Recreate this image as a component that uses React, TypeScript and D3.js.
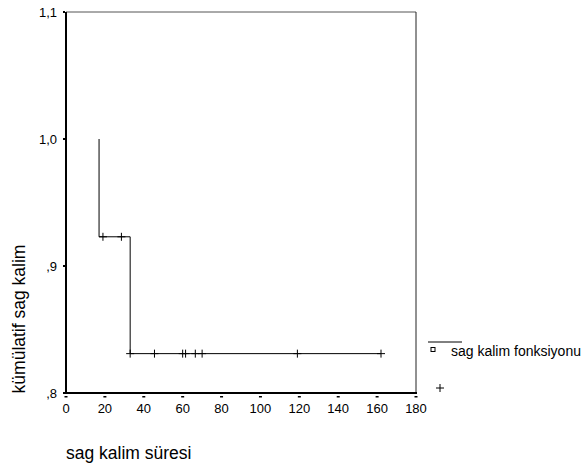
import React from 'react';
import * as d3 from 'd3';

// kaplan-meier steps
const stepTimes = [17, 33, 162];
const stepSurvival = [1.0, 0.923, 0.831];
const censorTimes = [19, 28.5, 33, 45.5, 60, 61.5, 66.5, 70, 119, 162];
const censorSurvival = [0.923, 0.923, 0.831, 0.831, 0.831, 0.831, 0.831, 0.831, 0.831, 0.831];
const xTicks = [0, 20, 40, 60, 80, 100, 120, 140, 160, 180];
const yTicks = [0.8, 0.9, 1.0, 1.1];
const yTickLabels = [',8', ',9', '1,0', '1,1'];

export default function App() {
  const width = 582;
  const height = 466;
  const left = 66, right = 416, top = 12, bottom = 393;

  const x = d3.scaleLinear().domain([0, 180]).range([left, right]);
  const y = d3.scaleLinear().domain([0.8, 1.1]).range([bottom, top]);

  // step path, vertical drop at each event time
  const pts: [number, number][] = [];
  for (let i = 0; i < stepTimes.length - 1; i++) {
    pts.push([stepTimes[i], stepSurvival[i]]);
    pts.push([stepTimes[i], stepSurvival[i + 1]]);
  }
  pts.push([stepTimes[stepTimes.length - 1], stepSurvival[stepSurvival.length - 1]]);
  const line = d3.line<[number, number]>()
    .x(d => x(d[0]))
    .y(d => y(d[1]));

  const font = 'Liberation Sans, Arial, sans-serif';

  return (
    <svg width={width} height={height} style={{ position: 'absolute', left: 0, top: 0 }}>
      <rect width={width} height={height} fill="#fff" />
      {/* frame */}
      <line x1={left} x2={right} y1={top} y2={top} stroke="#555" strokeWidth={1} />
      <line x1={right} x2={right} y1={top} y2={bottom} stroke="#222" strokeWidth={1} />
      <line x1={left} x2={left} y1={top} y2={bottom + 1} stroke="#000" strokeWidth={2} />
      <line x1={left - 1} x2={right + 1} y1={bottom} y2={bottom} stroke="#000" strokeWidth={2} />

      {/* y ticks */}
      {yTicks.map((t, i) => (
        <g key={'y' + i}>
          <rect x={left - 3} y={y(t) - 1} width={2} height={2} fill="#000" />
          <text x={left - 9} y={y(t) + 5} textAnchor="end" fontFamily={font} fontSize={13}>{yTickLabels[i]}</text>
        </g>
      ))}
      {/* x ticks */}
      {xTicks.map((t, i) => (
        <g key={'x' + i}>
          <rect x={x(t) - 1.5} y={bottom + 3} width={3} height={1.5} fill="#000" />
          <text x={x(t)} y={bottom + 20} textAnchor="middle" fontFamily={font} fontSize={13}>{t}</text>
        </g>
      ))}

      {/* survival line */}
      <path d={line(pts) ?? ''} fill="none" stroke="#000" strokeWidth={1} />

      {/* censored marks */}
      {censorTimes.map((t, i) => (
        <g key={'c' + i} stroke="#000" strokeWidth={1}>
          <line x1={x(t) - 4} x2={x(t) + 4} y1={y(censorSurvival[i])} y2={y(censorSurvival[i])} />
          <line x1={x(t)} x2={x(t)} y1={y(censorSurvival[i]) - 4} y2={y(censorSurvival[i]) + 4} />
        </g>
      ))}

      {/* axis titles */}
      <text transform={`translate(25, 319) rotate(-90)`} textAnchor="middle" fontFamily={font} fontSize={17.5}>kümülatif sag kalim</text>
      <text x={66} y={459} fontFamily={font} fontSize={17.5}>sag kalim süresi</text>

      {/* legend */}
      <line x1={428} x2={462} y1={342} y2={342} stroke="#000" strokeWidth={1} />
      <rect x={431} y={347.5} width={4} height={4} fill="none" stroke="#000" strokeWidth={1} />
      <text x={451} y={356} fontFamily={font} fontSize={14}>sag kalim fonksiyonu</text>
      <line x1={436} x2={444} y1={388} y2={388} stroke="#000" strokeWidth={1} />
      <line x1={440} x2={440} y1={384} y2={392} stroke="#000" strokeWidth={1} />
    </svg>
  );
}
